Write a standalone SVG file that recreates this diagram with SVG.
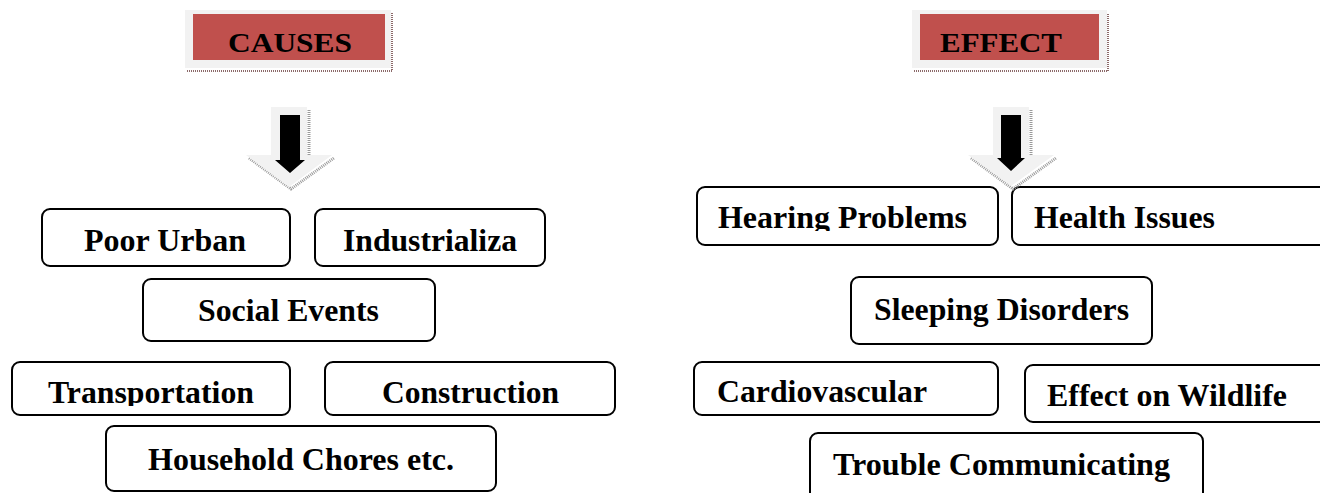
<svg xmlns="http://www.w3.org/2000/svg" width="1320" height="493" viewBox="0 0 1320 493">
<style>
.box{fill:#ffffff;stroke:#000;stroke-width:2}
.t{font-family:"Liberation Serif","Times New Roman",serif;font-weight:bold;font-size:31px;fill:#000;text-anchor:middle}
.h{font-family:"Liberation Serif","Times New Roman",serif;font-weight:bold;font-size:28px;fill:#000;text-anchor:middle}
.hdr-bg{fill:#f2f2f2}
.hdr{fill:#c0504d}
.shadow{fill:none;stroke:#8c6a6a;stroke-width:2;stroke-dasharray:1 1}
.ashadow{fill:none;stroke:#9a9a9a;stroke-width:3;stroke-dasharray:1 1}
.la{fill:#f2f2f2}
.ba{fill:#000}
</style>
<defs>
<clipPath id="clipTrans"><rect x="0" y="360" width="300" height="46"/></clipPath>
<clipPath id="clipHear"><rect x="690" y="180" width="320" height="51"/></clipPath>
</defs>
<rect width="1320" height="493" fill="#fff"/>

<g id="causes-header">
<polyline class="shadow" points="187,71 392,71 392,13"/>
<rect class="hdr-bg" x="185" y="10" width="206" height="58"/>
<rect class="hdr" x="193" y="14" width="192" height="46"/>
<text class="h" x="290" y="52" textLength="124" lengthAdjust="spacingAndGlyphs">CAUSES</text>
</g>
<g id="effect-header">
<polyline class="shadow" points="914,71 1108,71 1108,13"/>
<rect class="hdr-bg" x="912" y="10" width="195" height="58"/>
<rect class="hdr" x="920" y="14" width="179" height="46"/>
<text class="h" x="1001" y="52" textLength="122" lengthAdjust="spacingAndGlyphs">EFFECT</text>
</g>

<g id="causes-nodes">
<g id="poor-urban"><rect class="box" x="42" y="209" width="248" height="57" rx="8"/><text class="t" x="165" y="251" textLength="162" lengthAdjust="spacingAndGlyphs">Poor Urban</text></g>
<g id="industrializa"><rect class="box" x="315" y="209" width="230" height="57" rx="8"/><text class="t" x="430" y="251" textLength="174" lengthAdjust="spacingAndGlyphs">Industrializa</text></g>
<g id="social-events"><rect class="box" x="143" y="279" width="292" height="62" rx="8"/><text class="t" x="288.5" y="321" textLength="181" lengthAdjust="spacingAndGlyphs">Social Events</text></g>
<g id="transportation"><rect class="box" x="12" y="362" width="278" height="53" rx="8"/><text class="t" x="151" y="403" textLength="206" lengthAdjust="spacingAndGlyphs" clip-path="url(#clipTrans)">Transportation</text></g>
<g id="construction"><rect class="box" x="325" y="362" width="290" height="53" rx="8"/><text class="t" x="470.5" y="403" textLength="177" lengthAdjust="spacingAndGlyphs">Construction</text></g>
<g id="household"><rect class="box" x="106" y="426" width="390" height="65" rx="8"/><text class="t" x="301" y="470" textLength="306" lengthAdjust="spacingAndGlyphs">Household Chores etc.</text></g>
</g>

<g id="effect-nodes">
<g id="hearing"><rect class="box" x="697" y="187" width="301" height="58" rx="8"/><text class="t" x="842.5" y="228" textLength="249" lengthAdjust="spacingAndGlyphs" clip-path="url(#clipHear)">Hearing Problems</text></g>
<g id="health"><rect class="box" x="1012" y="187" width="320" height="58" rx="8"/><text class="t" x="1124.5" y="228" textLength="181" lengthAdjust="spacingAndGlyphs">Health Issues</text></g>
<g id="sleeping"><rect class="box" x="851" y="277" width="301" height="67" rx="8"/><text class="t" x="1001.5" y="320" textLength="255" lengthAdjust="spacingAndGlyphs">Sleeping Disorders</text></g>
<g id="cardio"><rect class="box" x="694" y="362" width="304" height="53" rx="8"/><text class="t" x="822" y="402" textLength="210" lengthAdjust="spacingAndGlyphs">Cardiovascular</text></g>
<g id="wildlife"><rect class="box" x="1025" y="365" width="307" height="57" rx="8"/><text class="t" x="1167" y="406" textLength="240" lengthAdjust="spacingAndGlyphs">Effect on Wildlife</text></g>
<g id="trouble"><rect class="box" x="810" y="433" width="393" height="70" rx="8"/><text class="t" x="1001.5" y="475" textLength="337" lengthAdjust="spacingAndGlyphs">Trouble Communicating</text></g>
</g>

<g id="connectors">
<g id="causes-arrow">
<polyline class="ashadow" points="309,110 309,157"/>
<polyline class="ashadow" points="249,158 291,189 334,158"/>
<polygon class="la" points="271,107 307,107 307,155 332,155 289,187 246,155 271,155"/>
<polygon class="ba" points="280,115 300,115 300,160 305,160 290,173 275,160 280,160"/>
</g>
<g id="effect-arrow">
<polyline class="ashadow" points="1031,110 1031,157"/>
<polyline class="ashadow" points="971,158 1013,189 1056,158"/>
<polygon class="la" points="993,107 1029,107 1029,155 1054,155 1011,186 968,155 993,155"/>
<polygon class="ba" points="1001,115 1021,115 1021,158 1025,158 1011,171 997,158 1001,158"/>
</g>
</g>
</svg>
